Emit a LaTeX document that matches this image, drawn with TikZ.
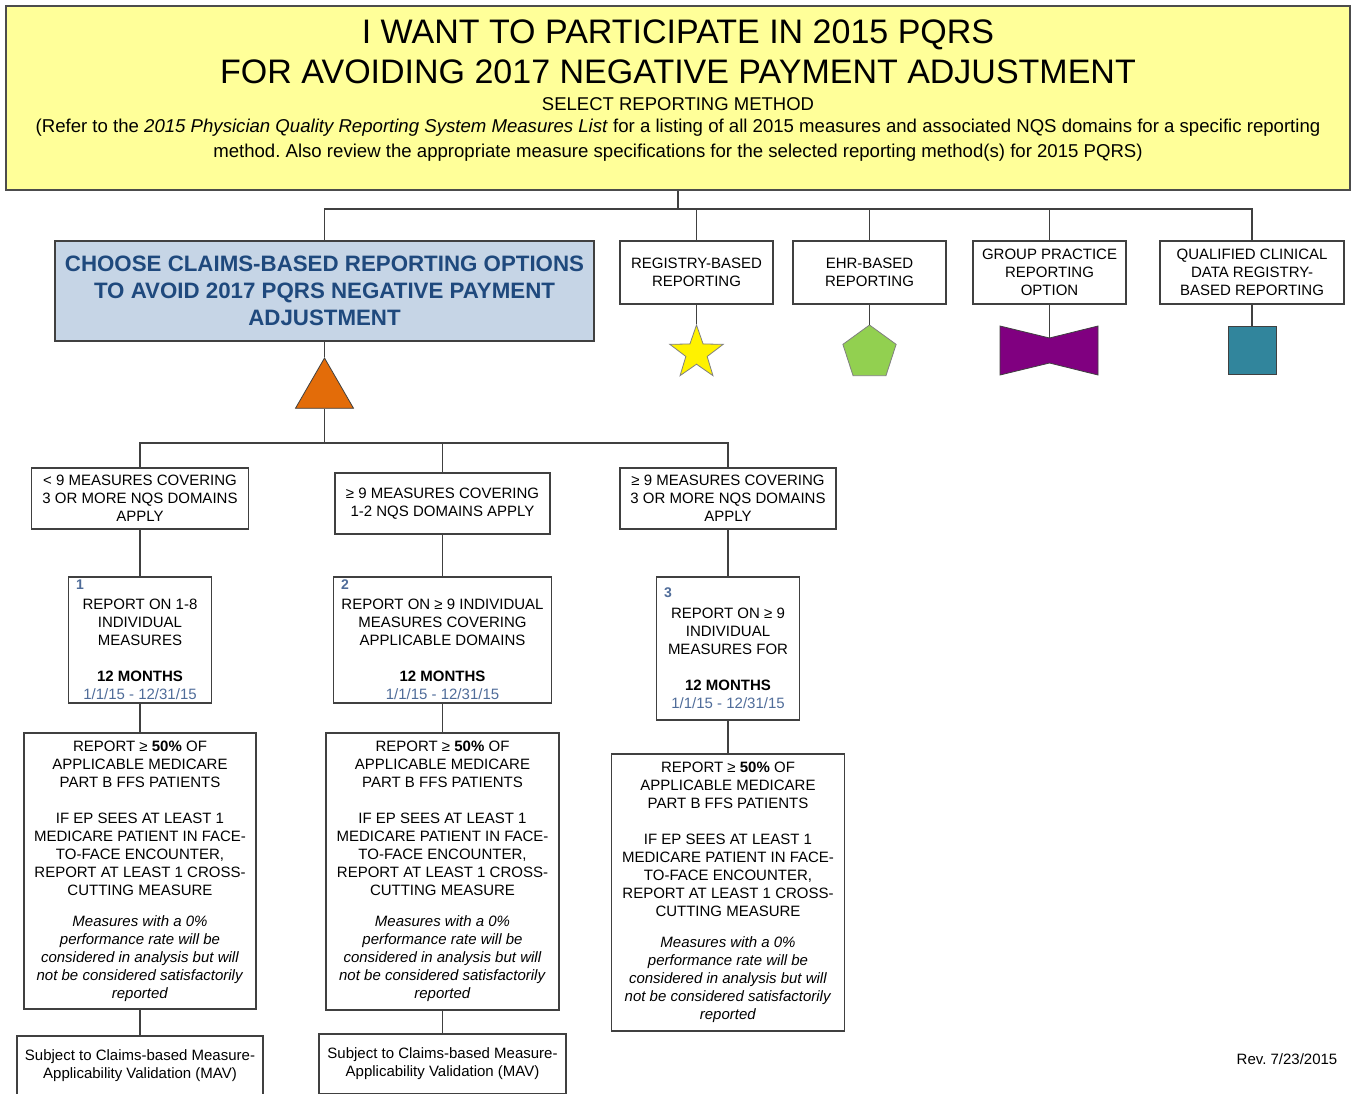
\documentclass[tikz,border=0pt]{standalone}
\usepackage{fontspec}
\setmainfont{Liberation Sans}
\usetikzlibrary{shapes.geometric}
\definecolor{paleyellow}{HTML}{FFFF99}
\definecolor{claimblue}{HTML}{C6D5E6}
\definecolor{navytext}{HTML}{1F497D}
\definecolor{datecol}{HTML}{4F6C99}
\definecolor{orangetri}{HTML}{E36C09}
\definecolor{greenpent}{HTML}{92D050}
\definecolor{purplebow}{HTML}{800080}
\definecolor{tealbox}{HTML}{31859C}
\definecolor{edgegray}{HTML}{404040}
\frenchspacing
\begin{document}
\begin{tikzpicture}[x=1pt,y=-1pt,
    box/.style={draw=edgegray,line width=1.3pt,fill=white,align=center,inner sep=0pt,font=\fontsize{15}{18}\selectfont},
    link/.style={draw=edgegray,line width=1.3pt},
    numtag/.style={anchor=north west,inner sep=0pt,xshift=8pt,yshift=-3pt,font=\fontsize{14}{14}\selectfont\bfseries,text=datecol},
    mark shape/.style={draw=gray,line width=0.8pt,inner sep=0pt}]
    \useasboundingbox (0,0) rectangle (1356,1093);
    \clip (0,0) rectangle (1356,1093);
    \fill[white] (0,0) rectangle (1356,1093);
    \node[draw=black!70,line width=2pt,fill=paleyellow,minimum width=1344pt,minimum height=184pt,inner sep=0pt](top)at(678,98){};
    \node[font=\fontsize{34}{40}\selectfont,align=center](title)at(678,52){I WANT TO PARTICIPATE IN 2015 PQRS\\FOR AVOIDING 2017 NEGATIVE PAYMENT ADJUSTMENT};
    \node[font=\fontsize{18.5}{22}\selectfont](select)at(678,104){SELECT REPORTING METHOD};
    \node[font=\fontsize{18.6}{25}\selectfont,align=center](refer)at(678,140){(Refer to the \textit{2015 Physician Quality Reporting System Measures List} for a listing of all 2015 measures and associated NQS domains for a specific reporting\\method. Also review the appropriate measure specifications for the selected reporting method(s) for 2015 PQRS)};
    \node[box,fill=claimblue,minimum width=539pt,minimum height=100pt,font=\fontsize{22.3}{27}\selectfont\bfseries,text=navytext](claims)at(324.5,291){CHOOSE CLAIMS-BASED REPORTING OPTIONS\\TO AVOID 2017 PQRS NEGATIVE PAYMENT\\ADJUSTMENT};
    \node[box,minimum width=153pt,minimum height=63pt](reg)at(696.5,272.5){REGISTRY-BASED\\REPORTING};
    \node[box,minimum width=153pt,minimum height=63pt](ehr)at(869.5,272.5){EHR-BASED\\REPORTING};
    \node[box,minimum width=153pt,minimum height=63pt](grp)at(1049.5,272.5){GROUP PRACTICE\\REPORTING\\OPTION};
    \node[box,minimum width=184pt,minimum height=63pt](qcd)at(1252,272.5){QUALIFIED CLINICAL\\DATA REGISTRY-\\BASED REPORTING};
    \node[mark shape,star,star points=5,star point ratio=2.5,fill=yellow,minimum size=56pt](star)at(696.5,353){};
    \node[mark shape,regular polygon,regular polygon sides=5,fill=greenpent,minimum size=56pt](pent)at(869.5,353){};
    \filldraw[fill=purplebow,draw=edgegray,line width=0.8pt] (1000,326) -- (1049.5,338) -- (1098,326) -- (1098,375) -- (1049.5,363) -- (1000,375) -- cycle;
    \coordinate (bow) at (1049.5,338);
    \node[mark shape,draw=edgegray,fill=tealbox,minimum width=48pt,minimum height=48pt](sq)at(1252,350){};
    \node[mark shape,draw=edgegray,regular polygon,regular polygon sides=3,fill=orangetri,minimum size=67pt](tri)at(324.5,391.5){};
    \node[box,minimum width=217pt,minimum height=61pt](optA)at(140,498.5){< 9 MEASURES COVERING\\3 OR MORE NQS DOMAINS\\APPLY};
    \node[box,minimum width=215pt,minimum height=61pt](optB)at(442.5,503.5){≥ 9 MEASURES COVERING\\1-2 NQS DOMAINS APPLY};
    \node[box,minimum width=216pt,minimum height=61pt](optC)at(728,498.5){≥ 9 MEASURES COVERING\\3 OR MORE NQS DOMAINS\\APPLY};
    \node[box,minimum width=143pt,minimum height=126pt,label={[numtag]north west:1}](rep1)at(140,640){\rule{0pt}{12pt}\\REPORT ON 1-8\\INDIVIDUAL\\MEASURES\\[18pt]\textbf{12 MONTHS}\\\textcolor{datecol}{1/1/15 - 12/31/15}};
    \node[box,minimum width=218pt,minimum height=126pt,label={[numtag]north west:2}](rep2)at(442.5,640){\rule{0pt}{12pt}\\REPORT ON ≥ 9 INDIVIDUAL\\MEASURES COVERING\\APPLICABLE DOMAINS\\[18pt]\textbf{12 MONTHS}\\\textcolor{datecol}{1/1/15 - 12/31/15}};
    \node[box,minimum width=143pt,minimum height=143pt,label={[numtag,yshift=-8pt]north west:3}](rep3)at(728,648.5){\rule{0pt}{12pt}\\REPORT ON ≥ 9\\INDIVIDUAL\\MEASURES FOR\\[18pt]\textbf{12 MONTHS}\\\textcolor{datecol}{1/1/15 - 12/31/15}};
    \node[box,minimum width=232pt,minimum height=276pt](pctA)at(140,871){REPORT ≥ \textbf{50\%} OF\\APPLICABLE MEDICARE\\PART B FFS PATIENTS\\[18pt]IF EP SEES AT LEAST 1\\MEDICARE PATIENT IN FACE-\\TO-FACE ENCOUNTER,\\REPORT AT LEAST 1 CROSS-\\CUTTING MEASURE\\[13pt]\textit{Measures with a 0\%}\\\textit{performance rate will be}\\\textit{considered in analysis but will}\\\textit{not be considered satisfactorily}\\\textit{reported}};
    \node[box,minimum width=233pt,minimum height=277pt](pctB)at(442.5,871.5){REPORT ≥ \textbf{50\%} OF\\APPLICABLE MEDICARE\\PART B FFS PATIENTS\\[18pt]IF EP SEES AT LEAST 1\\MEDICARE PATIENT IN FACE-\\TO-FACE ENCOUNTER,\\REPORT AT LEAST 1 CROSS-\\CUTTING MEASURE\\[13pt]\textit{Measures with a 0\%}\\\textit{performance rate will be}\\\textit{considered in analysis but will}\\\textit{not be considered satisfactorily}\\\textit{reported}};
    \node[box,minimum width=233pt,minimum height=277pt](pctC)at(728,892.5){REPORT ≥ \textbf{50\%} OF\\APPLICABLE MEDICARE\\PART B FFS PATIENTS\\[18pt]IF EP SEES AT LEAST 1\\MEDICARE PATIENT IN FACE-\\TO-FACE ENCOUNTER,\\REPORT AT LEAST 1 CROSS-\\CUTTING MEASURE\\[13pt]\textit{Measures with a 0\%}\\\textit{performance rate will be}\\\textit{considered in analysis but will}\\\textit{not be considered satisfactorily}\\\textit{reported}};
    \node[box,minimum width=246pt,minimum height=60pt](mavA)at(140,1066){Subject to Claims-based Measure-\\Applicability Validation (MAV)};
    \node[box,minimum width=247pt,minimum height=60pt](mavB)at(442.5,1064){Subject to Claims-based Measure-\\Applicability Validation (MAV)};
    \node[font=\fontsize{15}{18}\selectfont](rev)at(1287,1059){Rev. 7/23/2015};
    \coordinate (bus1) at (678,209);
    \coordinate (bus2) at (324.5,443);
    \draw[link] (top.south) -- (bus1);
    \foreach \n in {claims,reg,ehr,grp,qcd}
        \draw[link] (bus1) -| (\n.north);
    \draw[link] (reg.south) -- (star.north);
    \draw[link] (ehr.south) -- (pent.north);
    \draw[link] (grp.south) -- (bow);
    \draw[link] (qcd.south) -- (sq.north);
    \draw[link] (claims.south) -- (tri.north);
    \draw[link] (tri.south) -- (bus2);
    \foreach \n in {optA,optB,optC}
        \draw[link] (bus2) -| (\n.north);
    \draw[link] (optA.south) -- (rep1.north);
    \draw[link] (optB.south) -- (rep2.north);
    \draw[link] (optC.south) -- (rep3.north);
    \draw[link] (rep1.south) -- (pctA.north);
    \draw[link] (rep2.south) -- (pctB.north);
    \draw[link] (rep3.south) -- (pctC.north);
    \draw[link] (pctA.south) -- (mavA.north);
    \draw[link] (pctB.south) -- (mavB.north);
\end{tikzpicture}
\end{document}
